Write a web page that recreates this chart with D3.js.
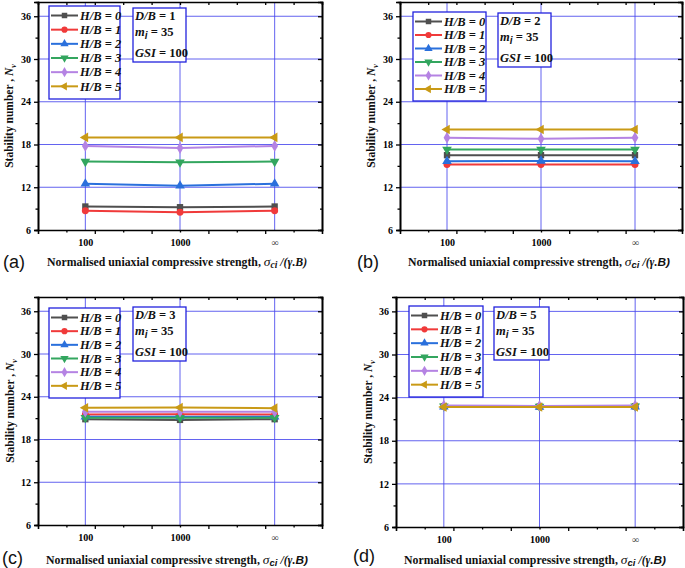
<!DOCTYPE html>
<html>
<head>
<meta charset="utf-8">
<script src="https://cdn.jsdelivr.net/npm/d3@7"></script>
<style>
  html, body { margin: 0; padding: 0; background: #fff; }
  svg { display: block; }
</style>
</head>
<body>
<svg id="chart" width="685" height="568"></svg>
<script>
// ---------------- DATA ----------------
const xLabels = ["100", "1000", "\u221E"];
const seriesNames = ["H/B = 0", "H/B = 1", "H/B = 2", "H/B = 3", "H/B = 4", "H/B = 5"];
const yTicks = [6, 12, 18, 24, 30, 36];
const dbValues = [1, 2, 3, 5];
const panelLetters = ["(a)", "(b)", "(c)", "(d)"];

// Panel (a) D/B = 1
const nvA_hb0 = [9.3, 9.2, 9.3];
const nvA_hb1 = [8.7, 8.5, 8.7];
const nvA_hb2 = [12.5, 12.2, 12.5];
const nvA_hb3 = [15.6, 15.5, 15.6];
const nvA_hb4 = [17.8, 17.5, 17.8];
const nvA_hb5 = [19.0, 19.0, 19.0];
// Panel (b) D/B = 2
const nvB_hb0 = [16.5, 16.5, 16.5];
const nvB_hb1 = [15.2, 15.2, 15.2];
const nvB_hb2 = [15.65, 15.7, 15.65];
const nvB_hb3 = [17.3, 17.3, 17.3];
const nvB_hb4 = [18.95, 18.8, 18.95];
const nvB_hb5 = [20.1, 20.1, 20.1];
// Panel (c) D/B = 3
const nvC_hb0 = [20.85, 20.75, 20.85];
const nvC_hb1 = [21.5, 21.55, 21.5];
const nvC_hb2 = [21.2, 21.2, 21.2];
const nvC_hb3 = [21.05, 21.05, 21.05];
const nvC_hb4 = [21.9, 21.9, 21.9];
const nvC_hb5 = [22.45, 22.5, 22.4];
// Panel (d) D/B = 5
const nvD_hb0 = [22.8, 22.75, 22.8];
const nvD_hb1 = [22.8, 22.75, 22.8];
const nvD_hb2 = [22.75, 22.7, 22.75];
const nvD_hb3 = [22.8, 22.75, 22.8];
const nvD_hb4 = [22.9, 22.85, 22.9];
const nvD_hb5 = [22.7, 22.7, 22.7];

const panelData = [
  [nvA_hb0, nvA_hb1, nvA_hb2, nvA_hb3, nvA_hb4, nvA_hb5],
  [nvB_hb0, nvB_hb1, nvB_hb2, nvB_hb3, nvB_hb4, nvB_hb5],
  [nvC_hb0, nvC_hb1, nvC_hb2, nvC_hb3, nvC_hb4, nvC_hb5],
  [nvD_hb0, nvD_hb1, nvD_hb2, nvD_hb3, nvD_hb4, nvD_hb5]
];

// ---------------- STYLE / LAYOUT ----------------
const colors = ["#4f4f4f", "#f03a3a", "#2a70dc", "#33a65f", "#b583e3", "#c99a16"];
const symbols = [d3.symbolSquare, d3.symbolCircle, d3.symbolTriangle, "tdown", d3.symbolDiamond, "tleft"];
const serif = "'Liberation Serif', 'Times New Roman', serif";
const sans = "'Liberation Sans', Arial, sans-serif";
const gridColor = "#4848ee";

const layout = [
  { x0: 38, x1: 322, y0: 2, y1: 230, legend: [49, 6, 71, 93], info: [133, 8, 53, 54], letterX: 3, letterY: 268, titleX: 47, titleY: 266, yTitleX: 13 },
  { x0: 400, x1: 682, y0: 2, y1: 230, legend: [413, 12, 73, 89], info: [498, 13, 53, 54], letterX: 357, letterY: 268, titleX: 408, titleY: 266, yTitleX: 375 },
  { x0: 38, x1: 322, y0: 297, y1: 525, legend: [49, 308, 71, 90], info: [133, 307, 53, 54], letterX: 2, letterY: 564, titleX: 46, titleY: 564, yTitleX: 14 },
  { x0: 396, x1: 683, y0: 297, y1: 527, legend: [409, 306, 74, 91], info: [494, 307, 55, 53], letterX: 353, letterY: 562, titleX: 404, titleY: 564, yTitleX: 372 }
];

const svg = d3.select("#chart");

function markerPath(sym, size) {
  if (sym === "tdown") {
    const p = d3.symbol().type(d3.symbolTriangle).size(size)();
    return { d: p, rot: 180 };
  }
  if (sym === "tleft") {
    const p = d3.symbol().type(d3.symbolTriangle).size(size)();
    return { d: p, rot: -90 };
  }
  return { d: d3.symbol().type(sym).size(size)(), rot: 0 };
}

function drawPanel(pi) {
  const L = layout[pi];
  const data = panelData[pi];
  const g = svg.append("g");

  const x = d3.scaleLinear().domain([-0.5, 2.5]).range([L.x0, L.x1]);
  const y = d3.scaleLinear().domain([6, 38]).range([L.y1, L.y0]);

  // grid
  const grid = g.append("g");
  grid.selectAll("line.h").data(yTicks.slice(1)).join("line")
    .attr("x1", L.x0).attr("x2", L.x1)
    .attr("y1", d => y(d)).attr("y2", d => y(d))
    .attr("stroke", gridColor).attr("stroke-width", 1).attr("opacity", 0.85);
  grid.selectAll("line.v").data([0, 1, 2]).join("line")
    .attr("x1", d => x(d)).attr("x2", d => x(d))
    .attr("y1", L.y0).attr("y2", L.y1)
    .attr("stroke", gridColor).attr("stroke-width", 1).attr("opacity", 0.85);

  // frame ticks
  const divs = d3.range(1, 10).map(k => -0.5 + 0.3 * k);
  const minorY = [9, 15, 21, 27, 33];

  // left axis
  const left = g.append("g").attr("transform", `translate(${L.x0},0)`)
    .call(d3.axisLeft(y).tickValues(yTicks).tickSize(4).tickPadding(3).tickFormat(d3.format("d")));
  left.append("g").call(d3.axisLeft(y).tickValues(minorY).tickSize(2.5).tickFormat(""));
  // right axis
  g.append("g").attr("transform", `translate(${L.x1},0)`)
    .call(d3.axisLeft(y).tickValues(yTicks).tickSize(4).tickFormat(""));
  g.append("g").attr("transform", `translate(${L.x1},0)`)
    .call(d3.axisLeft(y).tickValues(minorY).tickSize(2).tickFormat(""));
  // bottom axis
  const bottom = g.append("g").attr("transform", `translate(0,${L.y1})`)
    .call(d3.axisBottom(x).tickValues(divs).tickSize(4).tickFormat(""));
  bottom.selectAll(".tick line").attr("y2", (d, i) => (i % 2 === 1 ? 4 : 2.5));
  // labels of bottom categories
  g.append("g").attr("transform", `translate(0,${L.y1})`)
    .call(d3.axisBottom(x).tickValues([0, 1, 2]).tickSize(0).tickPadding(9).tickFormat(i => xLabels[i]))
    .call(a => a.select(".domain").remove());
  // top axis
  g.append("g").attr("transform", `translate(0,${L.y0})`)
    .call(d3.axisBottom(x).tickValues(divs).tickSize(3).tickFormat(""));

  g.selectAll(".domain").attr("stroke", "#000").attr("stroke-width", 1.6);
  g.selectAll(".tick line").attr("stroke", "#000").attr("stroke-width", 1.3);
  g.selectAll(".tick text").attr("font-family", serif).attr("font-weight", "bold")
    .attr("font-size", 10).attr("fill", "#000");
  g.selectAll(".tick text").filter(function(){ return this.textContent === "\u221E"; })
    .attr("font-weight", "normal").attr("fill", "#444");

  // series
  const line = d3.line().x((d, i) => x(i)).y(d => y(d));
  data.forEach((vals, si) => {
    g.append("path").datum(vals).attr("d", line)
      .attr("fill", "none").attr("stroke", colors[si]).attr("stroke-width", 2);
    const m = markerPath(symbols[si], si === 1 ? 38 : 40);
    g.selectAll(null).data(vals).join("path")
      .attr("d", m.d)
      .attr("transform", (d, i) => `translate(${x(i)},${y(d)}) rotate(${m.rot})`)
      .attr("fill", colors[si]);
  });

  // legend
  const [lx, ly, lw, lh] = L.legend;
  const lg = g.append("g");
  lg.append("rect").attr("x", lx).attr("y", ly).attr("width", lw).attr("height", lh)
    .attr("fill", "#fff").attr("stroke", "#2222dd").attr("stroke-width", 1.3);
  const rowH = (lh - 8) / 6;
  seriesNames.forEach((name, si) => {
    const cy = ly + 9 + rowH * si + 0.5;
    lg.append("line").attr("x1", lx + 2).attr("x2", lx + 29).attr("y1", cy).attr("y2", cy)
      .attr("stroke", colors[si]).attr("stroke-width", 2);
    const m = markerPath(symbols[si], 30);
    lg.append("path").attr("d", m.d).attr("transform", `translate(${lx + 15.5},${cy}) rotate(${m.rot})`)
      .attr("fill", colors[si]);
    lg.append("text").attr("x", lx + 31).attr("y", cy + 4.3)
      .attr("font-family", serif).attr("font-weight", "bold").attr("font-style", "italic")
      .attr("font-size", 12.5).attr("fill", "#111").text(name);
  });

  // info box
  const [ix, iy, iw, ih] = L.info;
  const ig = g.append("g");
  ig.append("rect").attr("x", ix).attr("y", iy).attr("width", iw).attr("height", ih)
    .attr("fill", "#fff").attr("stroke", "#2222dd").attr("stroke-width", 1.3);
  const t1 = ig.append("text").attr("x", ix + 2).attr("y", iy + 12)
    .attr("font-family", serif).attr("font-weight", "bold").attr("font-size", 12.5).attr("fill", "#111");
  t1.append("tspan").attr("font-style", "italic").text("D/B");
  t1.append("tspan").text(" = " + dbValues[pi]);
  const t2 = ig.append("text").attr("x", ix + 2).attr("y", iy + 28)
    .attr("font-family", serif).attr("font-weight", "bold").attr("font-size", 12.5).attr("fill", "#111");
  t2.append("tspan").attr("font-style", "italic").text("m");
  t2.append("tspan").attr("font-family", sans).attr("font-style", "italic").attr("font-size", 10).attr("dy", 3).text("i");
  t2.append("tspan").attr("dy", -3).text(" = 35");
  const t3 = ig.append("text").attr("x", ix + 2).attr("y", iy + 49)
    .attr("font-family", serif).attr("font-weight", "bold").attr("font-size", 12.5).attr("fill", "#111");
  t3.append("tspan").attr("font-style", "italic").text("GSI");
  t3.append("tspan").text(" = 100");

  // y title
  const ymid = (L.y0 + L.y1) / 2;
  const yt = g.append("text")
    .attr("transform", `translate(${L.yTitleX},${ymid}) rotate(-90)`)
    .attr("text-anchor", "middle")
    .attr("font-family", serif).attr("font-weight", "bold").attr("font-size", 11.5).attr("fill", "#111");
  yt.append("tspan").text("Stability number , ");
  yt.append("tspan").attr("font-style", "italic").text("N");
  yt.append("tspan").attr("font-style", "italic").attr("font-size", 8).attr("dy", 2.5).text("v");

  // x title
  const xt = g.append("text").attr("x", L.titleX).attr("y", L.titleY)
    .attr("font-family", serif).attr("font-weight", "bold").attr("font-size", 11.8).attr("fill", "#111");
  xt.append("tspan").text("Normalised uniaxial compressive strength, ");
  xt.append("tspan").attr("font-style", "italic").attr("font-weight", "normal").attr("font-size", 13.5).text("\u03C3");
  if (pi === 0) {
    xt.append("tspan").attr("font-style", "italic").attr("font-size", 9.5).attr("dy", 2).text("ci");
    xt.append("tspan").attr("font-style", "italic").attr("dy", -2).text(" /(\u03B3.B)");
  } else {
    xt.append("tspan").attr("font-family", sans).attr("font-style", "italic").attr("font-size", 9.5).attr("dy", 2).text("ci");
    xt.append("tspan").attr("dy", -2).attr("font-style", "italic").text(" /(\u03B3.");
    xt.append("tspan").attr("font-family", sans).attr("font-style", "italic").text("B)");
  }

  // panel letter
  g.append("text").attr("x", L.letterX).attr("y", L.letterY)
    .attr("font-family", sans).attr("font-size", 18).attr("fill", "#111").text(panelLetters[pi]);
}

[0, 1, 2, 3].forEach(drawPanel);
</script>
</body>
</html>
